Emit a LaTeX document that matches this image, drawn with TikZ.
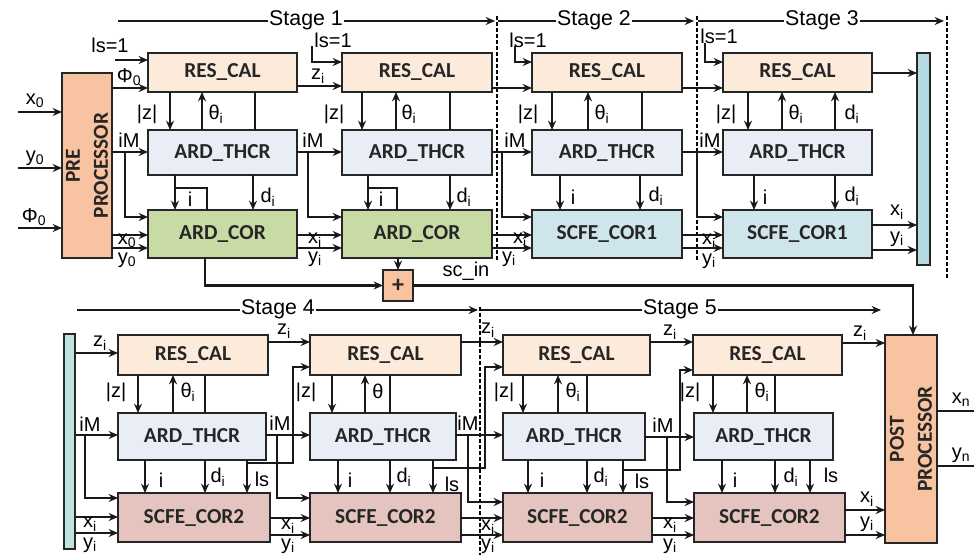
\documentclass[tikz,border=0pt]{standalone}
\usepackage{fontspec}
\setmainfont{Liberation Sans}
\newfontfamily\carl{Carlito}
\usetikzlibrary{arrows.meta}
\definecolor{cPre}{HTML}{F7C3A0}
\definecolor{cRes}{HTML}{FCEADB}
\definecolor{cThr}{HTML}{E9EEF6}
\definecolor{cArd}{HTML}{C8DBA4}
\definecolor{cScA}{HTML}{CFE5EC}
\definecolor{cScB}{HTML}{E5C3BF}
\definecolor{cBarA}{HTML}{B5DAE0}
\definecolor{cBarB}{HTML}{BEE3E0}
\newcommand\sbs[1]{\textsubscript{#1}}
\newcommand\mkblk[7]{\node[blk,fill=#6,minimum width={(#4-#2)*0.75pt},minimum height={(#5-#3)*0.75pt}] (#1) at ({(#2+#4)/2},{(#3+#5)/2}) {#7};}
\newcounter{lc}
\newcommand\lbl[2]{\stepcounter{lc}\node[lab] (lab\thelc) at (#1) {#2};}
\begin{document}
\begin{tikzpicture}[x=0.75pt,y=-0.75pt,
 blk/.style={draw=black!85, line width=2pt, inner sep=0pt, outer sep=0pt, font=\carl\bfseries\fontsize{16}{21}\selectfont, text=black!85},
 ln/.style={line width=1.65pt, draw=black!90},
 arr/.style={ln, -{Stealth[length=7pt,width=6pt]}},
 lab/.style={font=\fontsize{15}{17}\selectfont, inner sep=0pt},
 stg/.style={font=\fontsize{16}{18}\selectfont, inner sep=0.6pt},
 sep/.style={line width=1.8pt, dash pattern=on 3pt off 1.5pt}]
\useasboundingbox (0,0) rectangle (974,555);

% ---------------- blocks, top row
\mkblk{pre}{62}{73}{112}{258}{cPre}{}
\node[blk, draw=none, fill=none, rotate=90, align=center] (pretx) at (pre.center) {PRE\\PROCESSOR};
\mkblk{r1}{148}{53}{297}{92}{cRes}{RES\_CAL}
\mkblk{t1}{148}{130}{297}{175}{cThr}{ARD\_THCR}
\mkblk{c1}{148}{210}{297}{258}{cArd}{ARD\_COR}
\mkblk{r2}{342}{53}{492}{92}{cRes}{RES\_CAL}
\mkblk{t2}{342}{130}{492}{175}{cThr}{ARD\_THCR}
\mkblk{c2}{342}{210}{492}{258}{cArd}{ARD\_COR}
\mkblk{r3}{532}{53}{682}{92}{cRes}{RES\_CAL}
\mkblk{t3}{532}{130}{682}{175}{cThr}{ARD\_THCR}
\mkblk{c3}{532}{210}{682}{258}{cScA}{SCFE\_COR1}
\mkblk{r4}{723}{53}{872}{92}{cRes}{RES\_CAL}
\mkblk{t4}{723}{130}{872}{175}{cThr}{ARD\_THCR}
\mkblk{c4}{723}{210}{872}{258}{cScA}{SCFE\_COR1}
\mkblk{bar1}{917}{53}{930}{265}{cBarA}{}
\mkblk{plus}{383}{270}{413}{301}{cPre}{\fontsize{18}{18}\selectfont+}

% ---------------- blocks, bottom row
\mkblk{bar2}{64}{334}{75}{549}{cBarB}{}
\mkblk{r5}{118}{335}{268}{375}{cRes}{RES\_CAL}
\mkblk{t5}{118}{413}{266}{460}{cThr}{ARD\_THCR}
\mkblk{c5}{118}{493}{270}{542}{cScB}{SCFE\_COR2}
\mkblk{r6}{310}{335}{461}{375}{cRes}{RES\_CAL}
\mkblk{t6}{310}{413}{456}{460}{cThr}{ARD\_THCR}
\mkblk{c6}{310}{493}{461}{542}{cScB}{SCFE\_COR2}
\mkblk{r7}{503}{335}{650}{375}{cRes}{RES\_CAL}
\mkblk{t7}{503}{413}{645}{460}{cThr}{ARD\_THCR}
\mkblk{c7}{503}{493}{652}{542}{cScB}{SCFE\_COR2}
\mkblk{r8}{693}{335}{842}{375}{cRes}{RES\_CAL}
\mkblk{t8}{694}{413}{833}{460}{cThr}{ARD\_THCR}
\mkblk{c8}{694}{493}{845}{542}{cScB}{SCFE\_COR2}
\mkblk{post}{885}{335}{937}{543}{cPre}{}
\node[blk, draw=none, fill=none, rotate=90, align=center] (posttx) at (post.center) {POST\\PROCESSOR};

% ---------------- stage headers and separators
\node[stg] (s1) at (306,20) {Stage 1};
\coordinate (s1a) at (118,21); \coordinate (s1b) at (495,21);
\draw[ln] (s1a) -- (s1.west |- s1a); \draw[arr] (s1.east |- s1a) -- (s1b);
\node[stg] (s2) at (594,20) {Stage 2};
\coordinate (s2a) at (498,21); \coordinate (s2b) at (694,21);
\draw[ln] (s2a) -- (s2.west |- s2a); \draw[arr] (s2.east |- s2a) -- (s2b);
\node[stg] (s3) at (822,20) {Stage 3};
\coordinate (s3a) at (698,21); \coordinate (s3b) at (944,21);
\draw[ln] (s3a) -- (s3.west |- s3a); \draw[arr] (s3.east |- s3a) -- (s3b);
\node[stg] (s4) at (278,309) {Stage 4};
\coordinate (s4a) at (77,310); \coordinate (s4b) at (478,310);
\draw[ln] (s4a) -- (s4.west |- s4a); \draw[arr] (s4.east |- s4a) -- (s4b);
\node[stg] (s5) at (680,309) {Stage 5};
\coordinate (s5a) at (481,310); \coordinate (s5b) at (881,310);
\draw[ln] (s5a) -- (s5.west |- s5a); \draw[arr] (s5.east |- s5a) -- (s5b);
\draw[sep] (497,16) -- (497,262);
\draw[sep] (697,16) -- (697,262);
\draw[sep] (947,16) -- (947,280);
\draw[sep] (480,307) -- (480,555);

% ---------------- inputs of the pre processor
\coordinate (inx) at (18,112); \coordinate (iny) at (18,168); \coordinate (inp) at (18,228);
\draw[arr] (inx) -- (inx -| pre.west); \lbl{35,101}{x\sbs{0}}
\draw[arr] (iny) -- (iny -| pre.west); \lbl{35,158}{y\sbs{0}}
\draw[arr] (inp) -- (inp -| pre.west); \lbl{34,217}{Φ\sbs{0}}

% ls=1 inputs
\coordinate (ls1) at (115,60); \draw[arr] (ls1) -- (ls1 -| r1.west); \lbl{110,45}{ls=1}
\coordinate (ls2) at (312,46); \draw[arr] (ls2) |- (r2.west |- 0,62); \lbl{333,40}{ls=1}
\coordinate (ls3) at (515,46); \draw[arr] (ls3) |- (r3.west |- 0,62); \lbl{528,40}{ls=1}
\coordinate (ls4) at (705,43); \draw[arr] (ls4) |- (r4.west |- 0,62); \lbl{719,36}{ls=1}

% pre -> column 1
\draw[arr] (pre.east |- 0,88) -- (r1.west |- 0,88); \lbl{129,77}{Φ\sbs{0}}
\draw[arr] (pre.east |- 0,152) -- (t1.west |- 0,152); \lbl{129,140}{iM}
\coordinate (b1) at (125,152); \draw[arr] (b1) |- (c1.west |- 0,217);
\draw[arr] (pre.east |- 0,235) -- (c1.west |- 0,235); \lbl{127,241}{x\sbs{0}}
\draw[arr] (pre.east |- 0,248) -- (c1.west |- 0,248); \lbl{127,260}{y\sbs{0}}

% ---------------- column 1 internal
\draw[arr] (r1.south -| 170,0) -- (t1.north -| 170,0); \lbl{147,114}{|z|}
\draw[arr] (t1.north -| 202,0) -- (r1.south -| 202,0); \lbl{216,114}{θ\sbs{i}}
\draw[ln] (r1.south -| 255,0) -- (t1.north -| 255,0);
\draw[arr] (t1.south -| 175,0) -- (c1.north -| 175,0);
\coordinate (lp1) at (175,188); \draw[ln] (lp1) -| (c1.north -| 207,0); \lbl{190,199}{i}
\draw[arr] (t1.south -| 253,0) -- (c1.north -| 253,0); \lbl{268,197}{d\sbs{i}}

% column 1 -> 2
\draw[arr] (r1.east |- 0,86) -- (r2.west |- 0,86); \lbl{318,76}{z\sbs{i}}
\draw[arr] (t1.east |- 0,152) -- (t2.west |- 0,152); \lbl{313,140}{iM}
\coordinate (b2) at (308,152); \draw[arr] (b2) |- (c2.west |- 0,217);
\draw[arr] (c1.east |- 0,235) -- (c2.west |- 0,235); \lbl{315,240}{x\sbs{i}}
\draw[arr] (c1.east |- 0,248) -- (c2.west |- 0,248); \lbl{315,259}{y\sbs{i}}

% ---------------- column 2 internal
\draw[arr] (r2.south -| 362,0) -- (t2.north -| 362,0); \lbl{334,114}{|z|}
\draw[arr] (t2.north -| 396,0) -- (r2.south -| 396,0); \lbl{409,114}{θ\sbs{i}}
\draw[ln] (r2.south -| 450,0) -- (t2.north -| 450,0);
\draw[arr] (t2.south -| 368,0) -- (c2.north -| 368,0);
\coordinate (lp2) at (368,188); \draw[ln] (lp2) -| (c2.north -| 397,0); \lbl{381,199}{i}
\draw[arr] (t2.south -| 450,0) -- (c2.north -| 450,0); \lbl{464,197}{d\sbs{i}}

% column 2 -> 3
\draw[arr] (r2.east |- 0,88) -- (r3.west |- 0,88);
\draw[arr] (t2.east |- 0,152) -- (t3.west |- 0,152); \lbl{515,140}{iM}
\coordinate (b3) at (502,152); \draw[arr] (b3) |- (c3.west |- 0,217);
\draw[arr] (c2.east |- 0,235) -- (c3.west |- 0,235); \lbl{520,240}{x\sbs{i}}
\draw[arr] (c2.east |- 0,248) -- (c3.west |- 0,248); \lbl{509,259}{y\sbs{i}}

% ---------------- column 3 internal
\draw[arr] (r3.south -| 552,0) -- (t3.north -| 552,0); \lbl{528,114}{|z|}
\draw[arr] (t3.north -| 588,0) -- (r3.south -| 588,0); \lbl{602,114}{θ\sbs{i}}
\draw[ln] (r3.south -| 642,0) -- (t3.north -| 642,0);
\draw[arr] (t3.south -| 560,0) -- (c3.north -| 560,0); \lbl{573,197}{i}
\draw[arr] (t3.south -| 640,0) -- (c3.north -| 640,0); \lbl{656,196}{d\sbs{i}}

% column 3 -> 4
\draw[arr] (r3.east |- 0,88) -- (r4.west |- 0,88);
\draw[arr] (t3.east |- 0,152) -- (t4.west |- 0,152); \lbl{710,140}{iM}
\coordinate (b4) at (697,152); \draw[arr] (b4) |- (c4.west |- 0,217);
\draw[arr] (c3.east |- 0,235) -- (c4.west |- 0,235); \lbl{709,241}{x\sbs{i}}
\draw[arr] (c3.east |- 0,248) -- (c4.west |- 0,248); \lbl{709,261}{y\sbs{i}}

% ---------------- column 4 internal
\draw[arr] (r4.south -| 748,0) -- (t4.north -| 748,0); \lbl{726,114}{|z|}
\draw[arr] (t4.north -| 782,0) -- (r4.south -| 782,0); \lbl{796,114}{θ\sbs{i}}
\draw[arr] (t4.north -| 835,0) -- (r4.south -| 835,0); \lbl{852,114}{d\sbs{i}}
\draw[arr] (t4.south -| 754,0) -- (c4.north -| 754,0); \lbl{765,197}{i}
\draw[arr] (t4.south -| 835,0) -- (c4.north -| 835,0); \lbl{852,196}{d\sbs{i}}

% column 4 -> bar
\draw[arr] (r4.east |- 0,73) -- (bar1.west |- 0,73);
\draw[arr] (c4.east |- 0,225) -- (bar1.west |- 0,225); \lbl{897,212}{x\sbs{i}}
\draw[arr] (c4.east |- 0,250) -- (bar1.west |- 0,250); \lbl{897,239}{y\sbs{i}}

% ---------------- sc_in and adder
\draw[arr] (c1.south -| 205,0) |- (plus.west);
\draw[arr] (c2.south -| 398,0) -- (plus.north);
\draw[arr] (plus.east) -| (post.north -| 913,0);
\lbl{466,271}{sc\_in}

% ---------------- bar 2 -> column 5
\draw[arr] (bar2.east |- 0,353) -- (r5.west |- 0,353); \lbl{100,343}{z\sbs{i}}
\draw[arr] (bar2.east |- 0,435) -- (t5.west |- 0,435); \lbl{90,424}{iM}
\coordinate (b5) at (85,435); \draw[arr] (b5) |- (c5.west |- 0,498);
\draw[arr] (bar2.east |- 0,517) -- (c5.west |- 0,517); \lbl{90,524}{x\sbs{i}}
\draw[arr] (bar2.east |- 0,533) -- (c5.west |- 0,533); \lbl{90,545}{y\sbs{i}}

% ---------------- column 5 internal
\draw[arr] (r5.south -| 138,0) -- (t5.north -| 138,0); \lbl{116,392}{|z|}
\draw[arr] (t5.north -| 173,0) -- (r5.south -| 173,0); \lbl{188,392}{θ\sbs{i}}
\draw[ln] (r5.south -| 205,0) -- (t5.north -| 205,0);
\draw[arr] (t5.south -| 145,0) -- (c5.north -| 145,0); \lbl{161,480}{i}
\draw[arr] (t5.south -| 205,0) -- (c5.north -| 205,0); \lbl{218,477}{d\sbs{i}}
\draw[arr] (t5.south -| 247,0) -- (c5.north -| 247,0); \lbl{262,479}{ls}

% column 5 -> 6
\draw[arr] (r5.east |- 0,342) -- (r6.west |- 0,342); \lbl{284,331}{z\sbs{i}}
\coordinate (k5) at (247,463); \draw[arr] (k5) -- (293,463) |- (r6.west |- 0,367); \lbl{306,392}{|z|}
\draw[arr] (t5.east |- 0,435) -- (t6.west |- 0,435); \lbl{280,423}{iM}
\coordinate (b6) at (277,435); \draw[arr] (b6) |- (c6.west |- 0,498);
\draw[arr] (c5.east |- 0,518) -- (c6.west |- 0,518); \lbl{288,526}{x\sbs{i}}
\draw[arr] (c5.east |- 0,535) -- (c6.west |- 0,535); \lbl{288,546}{y\sbs{i}}

% ---------------- column 6 internal
\draw[arr] (r6.south -| 332,0) -- (t6.north -| 332,0);
\draw[arr] (t6.north -| 365,0) -- (r6.south -| 365,0); \lbl{378,391}{θ}
\draw[ln] (r6.south -| 390,0) -- (t6.north -| 390,0);
\draw[arr] (t6.south -| 338,0) -- (c6.north -| 338,0); \lbl{350,480}{i}
\draw[arr] (t6.south -| 390,0) -- (c6.north -| 390,0); \lbl{404,477}{d\sbs{i}}
\draw[arr] (t6.south -| 433,0) -- (c6.north -| 433,0); \lbl{452,484}{ls}

% column 6 -> 7
\draw[arr] (r6.east |- 0,342) -- (r7.west |- 0,342); \lbl{488,330}{z\sbs{i}}
\coordinate (k6) at (433,468); \draw[arr] (k6) -- (485,468) |- (r7.west |- 0,367); \lbl{504,392}{|z|}
\draw[arr] (t6.east |- 0,435) -- (t7.west |- 0,435); \lbl{468,423}{iM}
\coordinate (b7) at (468,435); \draw[arr] (b7) |- (c7.west |- 0,502);
\draw[arr] (c6.east |- 0,518) -- (c7.west |- 0,518); \lbl{488,527}{x\sbs{i}}
\draw[arr] (c6.east |- 0,535) -- (c7.west |- 0,535); \lbl{488,546}{y\sbs{i}}

% ---------------- column 7 internal
\draw[arr] (r7.south -| 523,0) -- (t7.north -| 523,0);
\draw[arr] (t7.north -| 558,0) -- (r7.south -| 558,0); \lbl{573,392}{θ\sbs{i}}
\draw[ln] (r7.south -| 587,0) -- (t7.north -| 587,0);
\draw[arr] (t7.south -| 528,0) -- (c7.north -| 528,0); \lbl{542,480}{i}
\draw[arr] (t7.south -| 587,0) -- (c7.north -| 587,0); \lbl{601,477}{d\sbs{i}}
\draw[arr] (t7.south -| 623,0) -- (c7.north -| 623,0); \lbl{642,481}{ls}

% column 7 -> 8
\draw[arr] (r7.east |- 0,342) -- (r8.west |- 0,342); \lbl{670,332}{z\sbs{i}}
\coordinate (k7) at (623,470); \draw[arr] (k7) -- (680,470) |- (r8.west |- 0,370); \lbl{690,392}{|z|}
\draw[arr] (t7.east |- 0,437) -- (t8.west |- 0,437); \lbl{663,425}{iM}
\coordinate (b8) at (667,437); \draw[arr] (b8) |- (c8.west |- 0,502);
\draw[arr] (c7.east |- 0,518) -- (c8.west |- 0,518); \lbl{670,525}{x\sbs{i}}
\draw[arr] (c7.east |- 0,535) -- (c8.west |- 0,535); \lbl{670,546}{y\sbs{i}}

% ---------------- column 8 internal
\draw[arr] (r8.south -| 713,0) -- (t8.north -| 713,0);
\draw[arr] (t8.north -| 747,0) -- (r8.south -| 747,0); \lbl{762,392}{θ\sbs{i}}
\draw[ln] (r8.south -| 775,0) -- (t8.north -| 775,0);
\draw[arr] (t8.south -| 722,0) -- (c8.north -| 722,0); \lbl{735,480}{i}
\draw[arr] (t8.south -| 775,0) -- (c8.north -| 775,0); \lbl{791,477}{d\sbs{i}}
\draw[arr] (t8.south -| 810,0) -- (c8.north -| 810,0); \lbl{831,475}{ls}

% column 8 -> post
\draw[arr] (r8.east |- 0,343) -- (post.west |- 0,343); \lbl{860,333}{z\sbs{i}}
\draw[arr] (c8.east |- 0,510) -- (post.west |- 0,510); \lbl{867,499}{x\sbs{i}}
\draw[arr] (c8.east |- 0,535) -- (post.west |- 0,535); \lbl{867,524}{y\sbs{i}}

% outputs
\coordinate (ox) at (974,411); \coordinate (oy) at (974,466);
\draw[ln] (post.east |- ox) -- (ox); \lbl{961,400}{x\sbs{n}}
\draw[ln] (post.east |- oy) -- (oy); \lbl{961,455}{y\sbs{n}}
\end{tikzpicture}
\end{document}
